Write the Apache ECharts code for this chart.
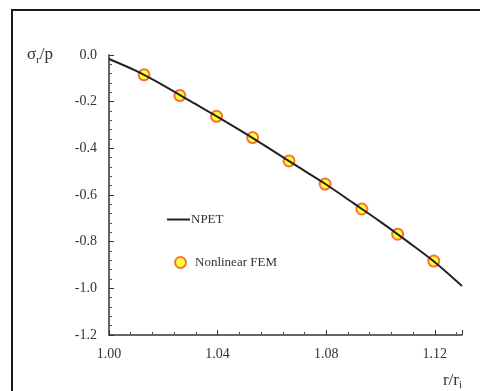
<!DOCTYPE html>
<html><head><meta charset="utf-8">
<script src="https://cdn.jsdelivr.net/npm/echarts@6/dist/echarts.min.js"></script>
<style>html,body{margin:0;padding:0;background:#fff}#c{width:480px;height:391px}</style>
</head><body><div id="c"></div>
<script>
// NPET curve (r/ri, sigma_r/p)
var npetX = [1.00, 1.01, 1.02, 1.03, 1.04, 1.05, 1.06, 1.07, 1.08, 1.09, 1.10, 1.11, 1.12, 1.13];
var npetY = [-0.017, -0.068, -0.130, -0.198, -0.265, -0.335, -0.408, -0.482, -0.555, -0.635, -0.715, -0.800, -0.888, -0.990];
// Nonlinear FEM points
var femX = [1.0129, 1.0261, 1.0396, 1.0529, 1.0663, 1.0796, 1.0931, 1.1063, 1.1196];
var femY = [-0.085, -0.174, -0.263, -0.354, -0.454, -0.553, -0.660, -0.768, -0.883];
// axis ticks
var xTicks = [1.00, 1.04, 1.08, 1.12];
var yTicks = [0.0, -0.2, -0.4, -0.6, -0.8, -1.0, -1.2];

var serif = '"Liberation Serif","DejaVu Serif",serif';
var chart = echarts.init(document.getElementById('c'), null, {renderer: 'canvas'});
function zip(a, b) { return a.map(function (v, i) { return [v, b[i]]; }); }
chart.setOption({
  backgroundColor: '#fff',
  animation: false,
  graphic: [{
    type: 'rect', shape: {x: 12, y: 10, width: 480, height: 400},
    style: {fill: 'none', stroke: '#1a1a1a', lineWidth: 2}, silent: true
  }],
  grid: {left: 109, right: 18, top: 55, bottom: 55},
  xAxis: {
    type: 'value', min: 1.00, max: 1.13, interval: 0.04,
    name: '{a|r/r}{s|i}', nameLocation: 'end', nameGap: 0,
    nameTextStyle: {
      align: 'right', verticalAlign: 'top', padding: [36, 0, 0, 0],
      rich: {a: {fontFamily: serif, fontSize: 17, color: '#333'}, s: {fontFamily: serif, fontSize: 11, color: '#333', verticalAlign: 'bottom', padding: [9, 0, 0, 0]}}
    },
    axisLine: {onZero: false, lineStyle: {color: '#333', width: 1.5}},
    axisTick: {inside: true, length: 5, lineStyle: {color: '#333'}},
    minorTick: {show: true, splitNumber: 5, length: 3, lineStyle: {color: '#555'}},
    splitLine: {show: false},
    axisLabel: {
      fontFamily: serif, fontSize: 14, color: '#333', margin: 12,
      showMaxLabel: false,
      formatter: function (v) { return xTicks.some(function (t) { return Math.abs(t - v) < 1e-6; }) ? v.toFixed(2) : ''; }
    }
  },
  yAxis: {
    type: 'value', min: -1.2, max: 0, interval: 0.2,
    name: '{a|σ}{s|r}{a|/p}', nameLocation: 'end', nameGap: 0,
    nameTextStyle: {
      align: 'left', verticalAlign: 'middle', padding: [0, 0, 0, -82],
      rich: {a: {fontFamily: serif, fontSize: 17, color: '#333'}, s: {fontFamily: serif, fontSize: 11, color: '#333', verticalAlign: 'bottom', padding: [10, 0, 0, 0]}}
    },
    axisLine: {onZero: false, lineStyle: {color: '#333', width: 1.5}},
    axisTick: {inside: true, length: 5, lineStyle: {color: '#333'}},
    minorTick: {show: true, splitNumber: 5, length: 3, lineStyle: {color: '#555'}},
    splitLine: {show: false},
    axisLabel: {
      fontFamily: serif, fontSize: 14, color: '#333', margin: 12,
      formatter: function (v) { var t = yTicks.filter(function (k) { return Math.abs(k - v) < 1e-6; }); return t.length ? (Math.abs(v) < 1e-9 ? '0.0' : v.toFixed(1)) : ''; }
    }
  },
  legend: [{
    data: [{name: 'NPET', icon: 'rect'}], left: 167, top: 213, orient: 'vertical', padding: 0,
    itemWidth: 23, itemHeight: 2,
    textStyle: {fontFamily: serif, fontSize: 13, color: '#333', padding: [0, 0, 0, -4]}
  }, {
    data: [{name: 'Nonlinear FEM', icon: 'circle'}], left: 174, top: 256, orient: 'vertical', padding: 0,
    itemWidth: 11, itemHeight: 11,
    textStyle: {fontFamily: serif, fontSize: 13, color: '#333', padding: [0, 0, 0, 4]}
  }],
  series: [{
    name: 'NPET', type: 'line', data: zip(npetX, npetY), smooth: 0.3,
    showSymbol: false, symbol: 'none',
    lineStyle: {color: '#222', width: 2}, itemStyle: {color: '#222'}
  }, {
    name: 'Nonlinear FEM', type: 'scatter', data: zip(femX, femY),
    symbol: 'circle', symbolSize: 11,
    itemStyle: {color: '#ffff00', borderColor: '#f4511e', borderWidth: 2}
  }]
});
</script></body></html>
